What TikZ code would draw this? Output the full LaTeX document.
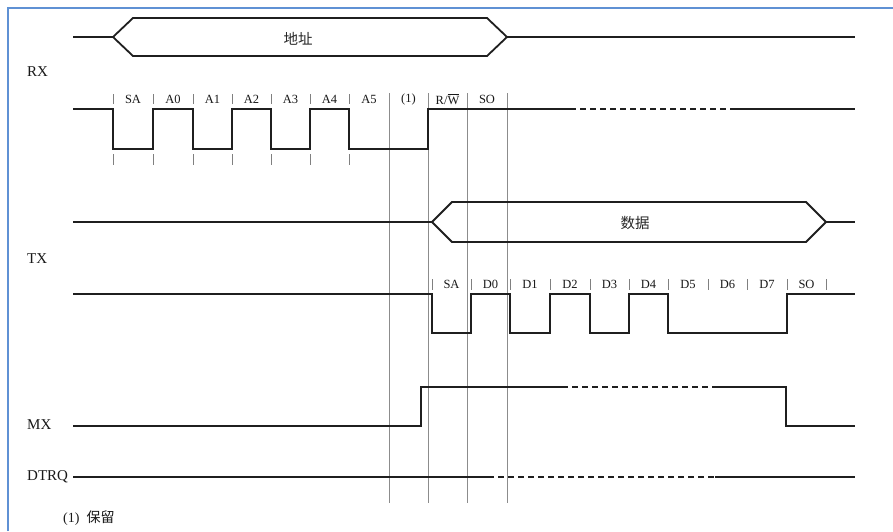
\documentclass[tikz,border=0pt]{standalone}
\usepackage{fontspec}
\setmainfont{Liberation Serif}
\newfontfamily\cjk{Noto Sans CJK SC}
\begin{document}
\begin{tikzpicture}[x=1pt,y=-1pt,
  sig/.style={line width=1.8pt,color=black!88,line join=miter},
  dsig/.style={sig,dash pattern=on 6pt off 4pt},
  guide/.style={line width=0.7pt,color=black!45},
  tick/.style={line width=0.5pt,color=black!50},
  lbl/.style={font=\fontsize{15}{15}\selectfont,text=black!90,inner sep=0pt},
  bit/.style={font=\fontsize{12.5}{12.5}\selectfont,text=black!90,inner sep=0pt},
  zh/.style={font=\cjk\fontsize{14.5}{14.5}\selectfont,text=black!85,inner sep=0pt},
  frame/.style={line width=1.6pt,color={rgb,255:red,95;green,145;blue,212}}]
\useasboundingbox (0,0) rectangle (893,531);
\fill[white] (0,0) rectangle (893,531);
\draw[frame] (8,531) -- (8,8) -- (893,8);

% guide lines
\foreach \gx in {389,428,467,507} \draw[guide] (\gx,93) -- (\gx,503);

% address bus
\draw[sig] (73,37) -- (113,37);
\draw[sig] (113,37) -- (133,18) -- (487,18) -- (507,37) -- (487,56) -- (133,56) -- (113,37) -- cycle;
\draw[sig] (507,37) -- (855,37);
\node[zh] (addr) at (298,39) {地址};

% RX
\node[lbl,anchor=west] (rx) at (27,72) {RX};
\draw[sig] (73,109) -- (113,109) -- (113,149) -- (153,149) -- (153,109) -- (193,109) -- (193,149)
  -- (232,149) -- (232,109) -- (271,109) -- (271,149) -- (310,149) -- (310,109) -- (349,109)
  -- (349,149) -- (428,149) -- (428,109) -- (570,109);
\draw[dsig] (570,109) -- (732,109);
\draw[sig] (732,109) -- (855,109);
\foreach \tx in {113,153,193,232,271,310,349} {
  \draw[tick] (\tx,94) -- (\tx,104);
  \draw[tick] (\tx,154) -- (\tx,165);
}
\foreach \bx/\bt in {133/SA,173/A0,212.5/A1,251.5/A2,290.5/A3,329.5/A4,369/A5,408.5/(1),447.5/{R/$\overline{\hbox{W}}$},487/SO}
  \node[bit] at (\bx,99) {\bt};

% TX bus
\draw[sig] (73,222) -- (432,222);
\draw[sig] (432,222) -- (452,202) -- (806,202) -- (826,222) -- (806,242) -- (452,242) -- (432,222) -- cycle;
\draw[sig] (826,222) -- (855,222);
\node[zh] (data) at (635,223) {数据};

% TX
\node[lbl,anchor=west] (tx) at (27,259) {TX};
\draw[sig] (73,294) -- (432,294) -- (432,333) -- (471,333) -- (471,294) -- (510,294) -- (510,333)
  -- (550,333) -- (550,294) -- (590,294) -- (590,333) -- (629,333) -- (629,294) -- (668,294)
  -- (668,333) -- (787,333) -- (787,294) -- (855,294);
\foreach \tx in {432,471,510,550,590,629,668,708,747,787,826}
  \draw[tick] (\tx,279) -- (\tx,290);
\foreach \bx/\bt in {451.5/SA,490.5/D0,530/D1,570/D2,609.5/D3,648.5/D4,688/D5,727.5/D6,767/D7,806.5/SO}
  \node[bit] at (\bx,284) {\bt};

% MX
\node[lbl,anchor=west] (mx) at (27,425) {MX};
\draw[sig] (73,426) -- (421,426) -- (421,387) -- (562,387);
\draw[dsig] (562,387) -- (715,387);
\draw[sig] (715,387) -- (786,387) -- (786,426) -- (855,426);

% DTRQ
\node[lbl,anchor=west] (dtrq) at (27,477) {DTRQ};
\draw[sig] (73,477) -- (488,477);
\draw[dsig] (488,477) -- (715,477);
\draw[sig] (715,477) -- (855,477);

% note
\node[anchor=west,inner sep=0pt,text=black!90] (note) at (63,518) {\fontsize{14}{14}\selectfont (1)\hspace{7pt}{\cjk 保留}};
\end{tikzpicture}
\end{document}
